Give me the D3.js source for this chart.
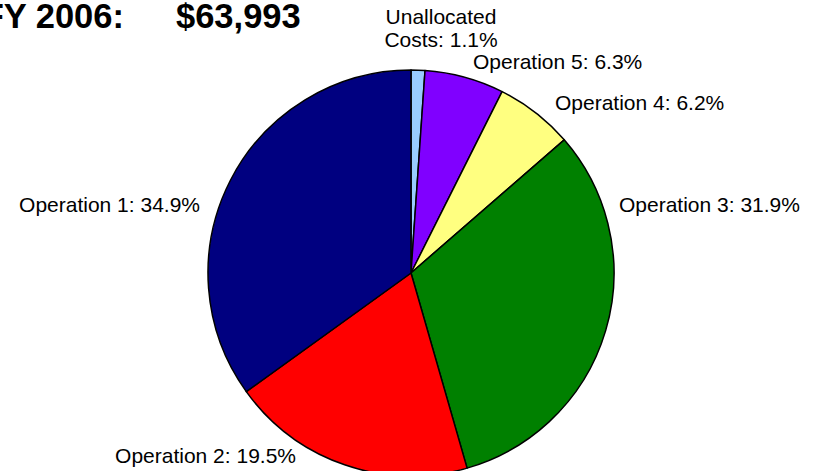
<!DOCTYPE html>
<html>
<head>
<meta charset="utf-8">
<script src="https://cdn.jsdelivr.net/npm/d3@7"></script>
<style>
  body { margin: 0; background: #fff; }
  text { font-family: "Liberation Sans", Arial, Helvetica, sans-serif; fill: #000; }
</style>
</head>
<body>
<svg width="815" height="471"></svg>
<script>
var svg = d3.select('svg');
var width = 815;
var height = 471;
var originX = 411;
var originY = 273;
var radius = 203;

// data, clockwise from 12 o'clock
var categories = ["Unallocated Costs", "Operation 5", "Operation 4", "Operation 3", "Operation 2", "Operation 1"];
var shares = [1.1, 6.3, 6.2, 31.9, 19.5, 34.9];
var colours = ["#99ccff", "#8000ff", "#ffff80", "#008000", "#ff0000", "#000080"];
var labelLines = [["Unallocated", "Costs: 1.1%"], ["Operation 5: 6.3%"], ["Operation 4: 6.2%"],
                  ["Operation 3: 31.9%"], ["Operation 2: 19.5%"], ["Operation 1: 34.9%"]];

// title (runs off the left edge like the original)
svg.append("text").attr("x", 124).attr("y", 28)
    .attr("text-anchor", "end")
    .style("font-size", "34.5px").style("font-weight", "bold")
    .text("FY 2006:");
svg.append("text").attr("x", 176).attr("y", 28)
    .style("font-size", "34.5px").style("font-weight", "bold")
    .text("$63,993");

var pie = d3.pie().sort(null).value(function (d) { return d; });
var arcs = pie(shares);
var arc = d3.arc().innerRadius(0).outerRadius(radius);

var group = svg.append("g").attr("transform", "translate(" + originX + "," + originY + ")");

group.selectAll("path")
    .data(arcs)
    .enter().append("path")
    .attr("d", arc)
    .attr("fill", function (d, i) { return colours[i]; })
    .attr("stroke", "black")
    .attr("stroke-width", 1.5)
    .attr("stroke-linejoin", "round");

// label placement (excel style, nudged off the rim)
var labelSpots = [
    { x: 30, y: -249, anchor: "middle" },
    { x: 62, y: -204, anchor: "start" },
    { x: 144, y: -163, anchor: "start" },
    { x: 208, y: -61, anchor: "start" },
    { x: -115, y: 190, anchor: "end" },
    { x: -211, y: -61, anchor: "end" }
];

var labels = group.selectAll("text.lbl")
    .data(arcs)
    .enter().append("text")
    .attr("class", "lbl")
    .style("font-size", "21px")
    .attr("text-anchor", function (d, i) { return labelSpots[i].anchor; });

labels.each(function (d, i) {
    var t = d3.select(this);
    labelLines[i].forEach(function (line, j) {
        t.append("tspan")
            .attr("x", labelSpots[i].x)
            .attr("y", labelSpots[i].y + j * 23)
            .text(line);
    });
});
</script>
</body>
</html>
